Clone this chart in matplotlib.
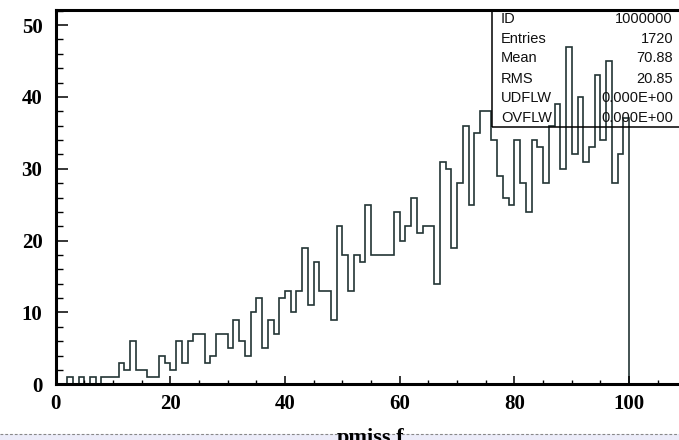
import numpy as np
import matplotlib.pyplot as plt
from matplotlib.patches import Rectangle
from matplotlib.lines import Line2D

# contents per bin, 100 bins of width 1 from 0 to 100
counts = [0, 0, 1, 0, 1, 0, 1, 0, 1, 1,
          1, 3, 2, 6, 2, 2, 1, 1, 4, 3,
          2, 6, 3, 6, 7, 7, 3, 4, 7, 7,
          5, 9, 6, 4, 10, 12, 5, 9, 7, 12,
          13, 10, 13, 19, 11, 17, 13, 13, 9, 22,
          18, 13, 18, 17, 25, 18, 18, 18, 18, 24,
          20, 22, 26, 21, 22, 22, 14, 31, 30, 19,
          28, 36, 25, 35, 38, 38, 34, 29, 26, 25,
          34, 28, 24, 34, 33, 28, 36, 39, 30, 47,
          32, 40, 31, 33, 43, 34, 45, 28, 32, 37]
edges = np.arange(0, 101)

stat_names = ['ID', 'Entries', 'Mean', 'RMS', 'UDFLW', 'OVFLW']
stat_values = ['1000000', '1720', '70.88', '20.85', '0.000E+00', '0.000E+00']

W, H = 679, 440
fig = plt.figure(figsize=(W / 100, H / 100), dpi=100)

# axes frame runs a bit past the right edge (x range 0..110)
x0, x1 = 55.6, 686.5
y0, y1 = 384.3, 10.0
ax = fig.add_axes((x0 / W, (H - y0) / H, (x1 - x0) / W, (y0 - y1) / H))

ax.stairs(counts, edges, color='#233535', linewidth=1.2, baseline=0)

ax.set_xlim(0, 110)
ax.set_ylim(0, 52.1)
ax.set_xticks([0, 20, 40, 60, 80, 100])
ax.set_xticks(np.arange(0, 111, 5), minor=True)
ax.set_yticks([0, 10, 20, 30, 40, 50])
ax.set_yticks(np.arange(0, 53, 2), minor=True)

for s in ['left', 'bottom', 'top']:
    ax.spines[s].set_linewidth(2.2)
ax.spines['right'].set_visible(False)

ax.tick_params(axis='y', which='major', direction='in', length=8.5, width=1.1, pad=9.5)
ax.tick_params(axis='y', which='minor', direction='in', length=5, width=1.0)
ax.tick_params(axis='x', which='major', direction='in', length=5.8, width=1.1, pad=7)
ax.tick_params(axis='x', which='minor', direction='in', length=3, width=1.0)
for lab in ax.get_xticklabels() + ax.get_yticklabels():
    lab.set_fontfamily('Liberation Serif')
    lab.set_fontweight('bold')
    lab.set_fontsize(15)

# statistics box, no fill so the histogram shows through
bx0 = (492 - x0) / (x1 - x0)
by0 = (y0 - 127) / (y0 - y1)
ax.add_patch(Rectangle((bx0, by0), 1.2, 1 - by0, transform=ax.transAxes,
                       fill=False, edgecolor='black', linewidth=1.1, clip_on=False))
row_y = [19, 39, 58.5, 78.5, 98, 118]
for name, val, ry in zip(stat_names, stat_values, row_y):
    fig.text(501 / W, 1 - ry / H, name, ha='left', va='center',
             fontfamily='Liberation Sans', fontsize=10.5, color='#111111')
    fig.text(673 / W, 1 - ry / H, val, ha='right', va='center',
             fontfamily='Liberation Sans', fontsize=10.5, color='#111111')

# page strip at the bottom
fig.add_artist(Rectangle((0, 0), 1, 6 / H, transform=fig.transFigure,
                         facecolor='#ececf9', edgecolor='none', zorder=1))
fig.add_artist(Line2D([0, 1], [6 / H, 6 / H], transform=fig.transFigure,
                      color='#888888', linewidth=0.8, linestyle=(0, (2.5, 1.8)), zorder=2))

fig.text(371 / W, 1 - 428 / H, 'pmiss.f', ha='center', va='top',
         fontfamily='Liberation Serif', fontweight='bold', fontsize=16, zorder=3)

fig.savefig('out.png', dpi=100)
